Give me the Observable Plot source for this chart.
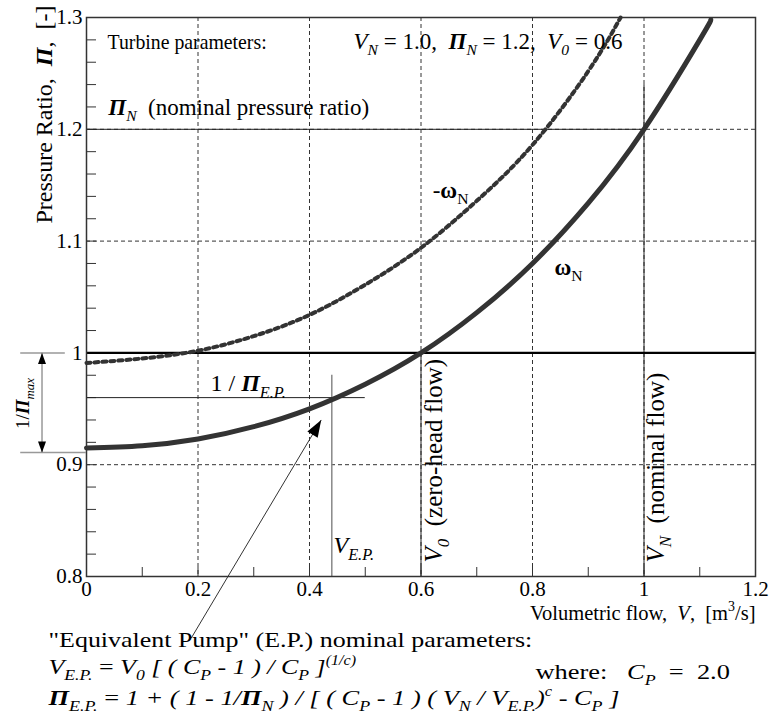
<!DOCTYPE html>
<html><head><meta charset="utf-8">
<script src="https://cdn.jsdelivr.net/npm/d3@7"></script>
<script src="https://cdn.jsdelivr.net/npm/@observablehq/plot@0.6"></script>
<style>body{margin:0;background:#fff}</style>
</head><body><div id="chart"></div>
<script>
// ---- data ----
const flowOmega = [0, 0.1, 0.2, 0.3, 0.4, 0.5, 0.6, 0.7, 0.8, 0.9, 1.0, 1.1, 1.12];
const ratioOmega = [0.915, 0.917, 0.923, 0.934, 0.950, 0.972, 1.000, 1.036, 1.080, 1.134, 1.200, 1.280, 1.298];
const flowMinusOmega = [0, 0.1, 0.2, 0.3, 0.4, 0.5, 0.6, 0.7, 0.8, 0.9, 0.958];
const ratioMinusOmega = [0.991, 0.995, 1.002, 1.015, 1.034, 1.061, 1.094, 1.136, 1.186, 1.252, 1.300];

const xTicks = [0, 0.2, 0.4, 0.6, 0.8, 1.0, 1.2];
const yTicks = [0.8, 0.9, 1.0, 1.1, 1.2, 1.3];
const xGrid = [0.2, 0.4, 0.6, 0.8, 1.0];
const yGrid = [0.9, 1.1, 1.2];
const xMinor = [0.1, 0.2, 0.3, 0.4, 0.5, 0.6, 0.7, 0.8, 0.9, 1.0, 1.1];
const yMinor = [0.82, 0.84, 0.86, 0.88, 0.9, 0.92, 0.94, 0.96, 0.98, 1.0, 1.02, 1.04, 1.06, 1.08, 1.1,
                1.12, 1.14, 1.16, 1.18, 1.2, 1.22, 1.24, 1.26, 1.28];

// turbine / equivalent pump parameters
const piN = 1.2, vN = 1.0, v0 = 0.6, vEP = 0.44, invPiEP = 0.96, invPiMax = 0.911;

// annotation geometry (data units)
const piMaxArrow = [{x: -0.0798, y1: invPiMax, y2: 1.0}];
const piMaxLines = [{y: 1.0, x1: -0.118, x2: -0.038}, {y: invPiMax, x1: -0.118, x2: 0}];
const epArrow = [{x1: 0.188, y1: 0.745, x2: 0.421, y2: 0.940}];

// texts (markup: {i:..} italic, {b:..} bold, {bi:..} bold italic, {s:..}/{sr:..} subscript,
//        {p:..}/{pr:..} superscript, {sx:k} horizontal stretch of the whole line)
const turbineHead = [{x: 0.0377, y: 1.2785, t: "{sx:0.9}Turbine parameters:"}];
const turbineParams = [{x: 0.479, y: 1.2785, t: "{i:V}{s:N} = 1.0,  {bi:Π}{s:N} = 1.2,  {i:V}{s:0} = 0.6"}];
const piNLabel = [{x: 0.039, y: 1.2195, t: "{bi:Π}{s:N}  (nominal pressure ratio)"}];
const epLabels = [
  {x: 0.2224, y: 0.9726, t: "1 / {bi:Π}{s:E.P.}"},
  {x: 0.443, y: 0.8277, t: "{i:V}{s:E.P.}"}
];
const curveLabels = [
  {x: 0.653, y: 1.1453, t: "-{b:ω}{sr:N}"},
  {x: 0.8646, y: 1.0764, t: "{b:ω}{sr:N}"}
];
const verticalLabels = [
  {x: 0.6242, y: 0.8125, t: "{i:V}{s:0}  (zero-head flow)"},
  {x: 1.0224, y: 0.8125, t: "{i:V}{s:N}  (nominal flow)"}
];
const yTitle = [{x: -0.0753, y: 1.3107, t: "Pressure Ratio,  {bi:Π},  [-]"}];
const piMaxLabel = [{x: -0.1148, y: 0.9547, t: "1/{bi:Π}{s:max}"}];
const xTitle = [{x: 1.2, y: 0.7669, t: "Volumetric flow,  {i:V},  [m{pr:3}/s]"}];
const footerLines = [
  {x: -0.0682, y: 0.7436, t: "{sx:1.18}\"Equivalent Pump\" (E.P.) nominal parameters:"},
  {x: -0.0682, y: 0.7195, t: "{sx:1.18}{i:V}{s:E.P.} = {i:V}{s:0}{i: [ ( C}{s:P}{i: - 1 ) / C}{s:P}{i: ]}{p:(1/c)}"},
  {x: -0.0682, y: 0.6915, t: "{sx:1.2}{bi:Π}{s:E.P.} = {i:1 + ( 1 - 1/}{bi:Π}{s:N}{i: ) / [ ( C}{s:P}{i: - 1 ) ( V}{s:N}{i: / V}{s:E.P.}{i:)}{p:c}{i: - C}{s:P}{i: ]}"},
  {x: 0.8054, y: 0.7148, t: "{sx:1.2}where:   {i:C}{s:P}  =  2.0"}
];

const omegaData = flowOmega.map((x, i) => ({x, y: ratioOmega[i]}));
const minusOmegaData = flowMinusOmega.map((x, i) => ({x, y: ratioMinusOmega[i]}));

const headSmall = {draw(ctx) { ctx.moveTo(0, 0); ctx.lineTo(-4, 11); ctx.lineTo(4, 11); ctx.closePath(); }};
const headLarge = {draw(ctx) { ctx.moveTo(0, 0); ctx.lineTo(-6, 17); ctx.lineTo(6, 17); ctx.closePath(); }};

const fmt = d => String(Math.round(d * 10) / 10);
const dash = {stroke: "#333", strokeWidth: 1, strokeDasharray: "4,3"};
const T = (data, size, opts = {}) => Plot.text(data, {x: "x", y: "y", text: "t", textAnchor: "start", fontSize: size, fill: "#000", ...opts});

const chart = Plot.plot({
  width: 784, height: 717,
  marginLeft: 86, marginRight: 29, marginTop: 17, marginBottom: 141,
  style: {fontFamily: "'Liberation Serif', 'DejaVu Serif', serif", fontSize: "21px", background: "#fff", color: "#000"},
  x: {domain: [0, 1.2], ticks: xTicks, tickFormat: fmt, tickSize: 0, tickPadding: 5, label: null},
  y: {domain: [0.8, 1.3], ticks: yTicks, tickFormat: fmt, tickSize: 0, tickPadding: 4, label: null},
  marks: [
    Plot.ruleX(xGrid, {x: d => d, ...dash}),
    Plot.ruleY(yGrid, {y: d => d, ...dash}),
    Plot.ruleY(yMinor, {y: d => d, x1: 0, x2: 0, insetRight: -10, stroke: "#333"}),
    Plot.ruleX(xMinor, {x: d => d, y1: 0.8, y2: 0.8, insetTop: -9, stroke: "#333"}),
    Plot.ruleY([piN], {y: d => d, x1: 0, x2: vN, stroke: "#222", strokeWidth: 1}),
    Plot.ruleX([v0], {x: d => d, y1: 0.8, y2: 1.0, stroke: "#222", strokeWidth: 1}),
    Plot.ruleX([vN], {x: d => d, y1: 0.8, y2: 1.24, stroke: "#222", strokeWidth: 1}),
    Plot.ruleX([vEP], {x: d => d, y1: 0.8, y2: 0.98, stroke: "#888", strokeWidth: 1.5}),
    Plot.ruleY([invPiEP], {y: d => d, x1: 0, x2: 0.5, stroke: "#222", strokeWidth: 1}),
    Plot.ruleY([1.0], {y: d => d, stroke: "#000", strokeWidth: 2.2}),
    Plot.frame({stroke: "#333", strokeWidth: 1.5}),
    Plot.line(minusOmegaData, {x: "x", y: "y", curve: "natural", stroke: "#333", strokeWidth: 4, strokeDasharray: "4,4"}),
    Plot.line(omegaData, {x: "x", y: "y", curve: "natural", stroke: "#333", strokeWidth: 5}),
    // 1/Pi_max dimension arrow
    Plot.ruleY(piMaxLines, {y: "y", x1: "x1", x2: "x2", stroke: "#999", strokeWidth: 1.5}),
    Plot.ruleX(piMaxArrow, {x: "x", y1: "y1", y2: "y2", stroke: "#999", strokeWidth: 1.5}),
    Plot.dot(piMaxArrow, {x: "x", y: "y2", symbol: headSmall, rotate: 0, fill: "#000", stroke: "none"}),
    Plot.dot(piMaxArrow, {x: "x", y: "y1", symbol: headSmall, rotate: 180, fill: "#000", stroke: "none"}),
    // Equivalent pump pointer
    Plot.link(epArrow, {x1: "x1", y1: "y1", x2: "x2", y2: "y2", stroke: "#333", strokeWidth: 1}),
    Plot.dot(epArrow, {x: "x2", y: "y2", symbol: headLarge, rotate: 30.7, fill: "#000", stroke: "none"}),
    // texts
    T(turbineHead, 22),
    T(turbineParams, 23),
    T(piNLabel, 23),
    T(epLabels, 24),
    T(curveLabels, 23, {textAnchor: "middle"}),
    T(verticalLabels, 25, {rotate: -90}),
    T(yTitle, 24, {textAnchor: "end", rotate: -90}),
    T(piMaxLabel, 19, {textAnchor: "middle", rotate: -90}),
    T(xTitle, 20.5, {textAnchor: "end"}),
    T(footerLines, 22)
  ]
});
document.getElementById("chart").appendChild(chart);

// ---- rich-text post-processing (sub/superscripts, italics, stretch) ----
const STY = {
  i: {style: "italic"}, b: {weight: "bold"}, bi: {style: "italic", weight: "bold"},
  s: {style: "italic", size: 0.68, shift: 0.28}, sr: {size: 0.68, shift: 0.28},
  p: {style: "italic", size: 0.62, shift: -0.40}, pr: {size: 0.68, shift: -0.45}
};
function richify(root) {
  const ns = "http://www.w3.org/2000/svg";
  root.querySelectorAll("text, tspan").forEach(el => {
    if (el.childNodes.length !== 1 || el.firstChild.nodeType !== 3) return;
    const s = el.textContent;
    if (!s.includes("{")) return;
    const fs = parseFloat(getComputedStyle(el).fontSize) || 20;
    el.textContent = "";
    el.style.whiteSpace = "pre";
    const re = /\{(\w+):([^}]*)\}|([^{]+)/g;
    let m, cur = 0, sx = 1;
    while ((m = re.exec(s))) {
      if (m[1] === "sx") { sx = +m[2]; continue; }
      const st = m[1] ? (STY[m[1]] || {}) : {};
      const txt = m[1] ? m[2] : m[3];
      const ts = document.createElementNS(ns, "tspan");
      ts.textContent = txt;
      if (st.style) ts.setAttribute("font-style", st.style);
      if (st.weight) ts.setAttribute("font-weight", st.weight);
      if (st.size) ts.setAttribute("font-size", (fs * st.size).toFixed(2));
      const want = (st.shift || 0) * fs;
      if (want !== cur) ts.setAttribute("dy", (want - cur).toFixed(2));
      cur = want;
      el.appendChild(ts);
    }
    if (sx !== 1) {
      const textEl = el.tagName.toLowerCase() === "text" ? el : el.closest("text");
      const tr = textEl.getAttribute("transform");
      if (tr) {
        textEl.setAttribute("transform", tr + ` scale(${sx},1)`);
      } else {
        const x = +(textEl.getAttribute("x") || 0), y = +(textEl.getAttribute("y") || 0);
        textEl.removeAttribute("x"); textEl.removeAttribute("y");
        textEl.setAttribute("transform", `translate(${x},${y}) scale(${sx},1)`);
      }
    }
  });
}
richify(chart);
</script>
</body></html>
